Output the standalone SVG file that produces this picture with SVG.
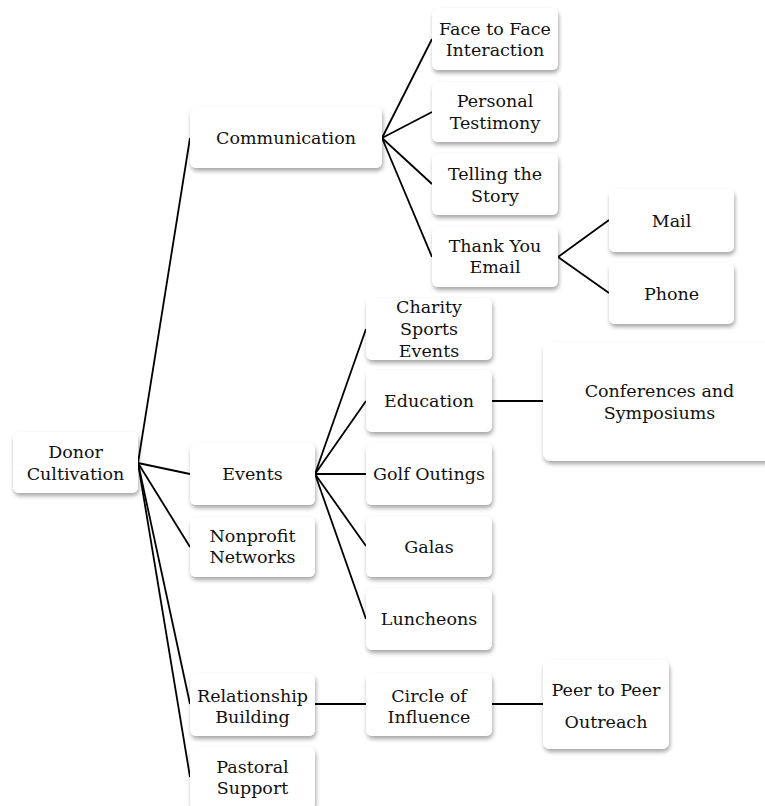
<svg xmlns="http://www.w3.org/2000/svg" width="765" height="806" viewBox="0 0 765 806">
<defs>
<filter id="sh" x="-10%" y="-10%" width="130%" height="140%">
<feDropShadow dx="1" dy="3" stdDeviation="2" flood-color="#000" flood-opacity="0.35"/>
</filter>
<style>
.box{fill:#fff;filter:url(#sh);}
.t{font-family:"DejaVu Serif","Liberation Serif",serif;font-size:17.5px;fill:#111;text-anchor:middle;}
.c line{stroke:#000;stroke-width:1.8;}
</style>
</defs>
<rect width="765" height="806" fill="#fff"/>
<g class="c" id="connectors">
<line x1="138" y1="463" x2="190" y2="138"/>
<line x1="138" y1="463" x2="190" y2="474"/>
<line x1="138" y1="463" x2="190" y2="547"/>
<line x1="138" y1="463" x2="190" y2="704"/>
<line x1="138" y1="463" x2="190" y2="777"/>
<line x1="382" y1="138" x2="432" y2="39"/>
<line x1="382" y1="138" x2="432" y2="112"/>
<line x1="382" y1="138" x2="432" y2="184"/>
<line x1="382" y1="138" x2="432" y2="257"/>
<line x1="558" y1="257" x2="609" y2="220"/>
<line x1="558" y1="257" x2="609" y2="293"/>
<line x1="315" y1="474" x2="366" y2="329"/>
<line x1="315" y1="474" x2="366" y2="401"/>
<line x1="315" y1="474" x2="366" y2="474"/>
<line x1="315" y1="474" x2="366" y2="546"/>
<line x1="315" y1="474" x2="366" y2="619"/>
<line x1="492" y1="401" x2="543" y2="401"/>
<line x1="315" y1="704" x2="366" y2="704"/>
<line x1="492" y1="704" x2="543" y2="704"/>
</g>
<g id="donor"><rect class="box" x="13" y="432" width="125" height="61" rx="6"/><text class="t" x="75.5" y="458">Donor</text><text class="t" x="75.5" y="480">Cultivation</text></g>
<g id="communication"><rect class="box" x="190" y="107" width="192" height="61" rx="6"/><text class="t" x="286" y="144">Communication</text></g>
<g id="face"><rect class="box" x="432" y="8" width="126" height="62" rx="6"/><text class="t" x="495" y="35">Face to Face</text><text class="t" x="495" y="56">Interaction</text></g>
<g id="personal"><rect class="box" x="432" y="82" width="126" height="60" rx="6"/><text class="t" x="495" y="107">Personal</text><text class="t" x="495" y="129">Testimony</text></g>
<g id="telling"><rect class="box" x="432" y="153" width="126" height="62" rx="6"/><text class="t" x="495" y="180">Telling the</text><text class="t" x="495" y="202">Story</text></g>
<g id="thankyou"><rect class="box" x="432" y="227" width="126" height="60" rx="6"/><text class="t" x="495" y="252">Thank You</text><text class="t" x="495" y="273">Email</text></g>
<g id="mail"><rect class="box" x="609" y="189" width="125" height="63" rx="6"/><text class="t" x="671.5" y="227">Mail</text></g>
<g id="phone"><rect class="box" x="609" y="263" width="125" height="61" rx="6"/><text class="t" x="671.5" y="300">Phone</text></g>
<g id="charity"><rect class="box" x="366" y="298" width="126" height="62" rx="6"/><text class="t" x="429" y="313">Charity</text><text class="t" x="429" y="335">Sports</text><text class="t" x="429" y="357">Events</text></g>
<g id="education"><rect class="box" x="366" y="370" width="126" height="62" rx="6"/><text class="t" x="429" y="407">Education</text></g>
<g id="conferences"><rect class="box" x="543" y="342" width="233" height="119" rx="8"/><text class="t" x="659.5" y="397">Conferences and</text><text class="t" x="659.5" y="419">Symposiums</text></g>
<g id="golf"><rect class="box" x="366" y="443" width="126" height="62" rx="6"/><text class="t" x="429" y="480">Golf Outings</text></g>
<g id="galas"><rect class="box" x="366" y="516" width="126" height="61" rx="6"/><text class="t" x="429" y="553">Galas</text></g>
<g id="luncheons"><rect class="box" x="366" y="588" width="126" height="62" rx="6"/><text class="t" x="429" y="625">Luncheons</text></g>
<g id="events"><rect class="box" x="190" y="443" width="125" height="62" rx="6"/><text class="t" x="252.5" y="480">Events</text></g>
<g id="nonprofit"><rect class="box" x="190" y="517" width="125" height="60" rx="6"/><text class="t" x="252.5" y="542">Nonprofit</text><text class="t" x="252.5" y="563">Networks</text></g>
<g id="relationship"><rect class="box" x="190" y="673" width="125" height="63" rx="6"/><text class="t" x="252.5" y="702">Relationship</text><text class="t" x="252.5" y="723">Building</text></g>
<g id="circle"><rect class="box" x="366" y="673" width="126" height="63" rx="6"/><text class="t" x="429" y="702">Circle of</text><text class="t" x="429" y="723">Influence</text></g>
<g id="peer"><rect class="box" x="543" y="660" width="126" height="89" rx="7"/><text class="t" x="606" y="696">Peer to Peer</text><text class="t" x="606" y="728">Outreach</text></g>
<g id="pastoral"><rect class="box" x="190" y="747" width="125" height="62" rx="6"/><text class="t" x="252.5" y="773">Pastoral</text><text class="t" x="252.5" y="794">Support</text></g>
</svg>
